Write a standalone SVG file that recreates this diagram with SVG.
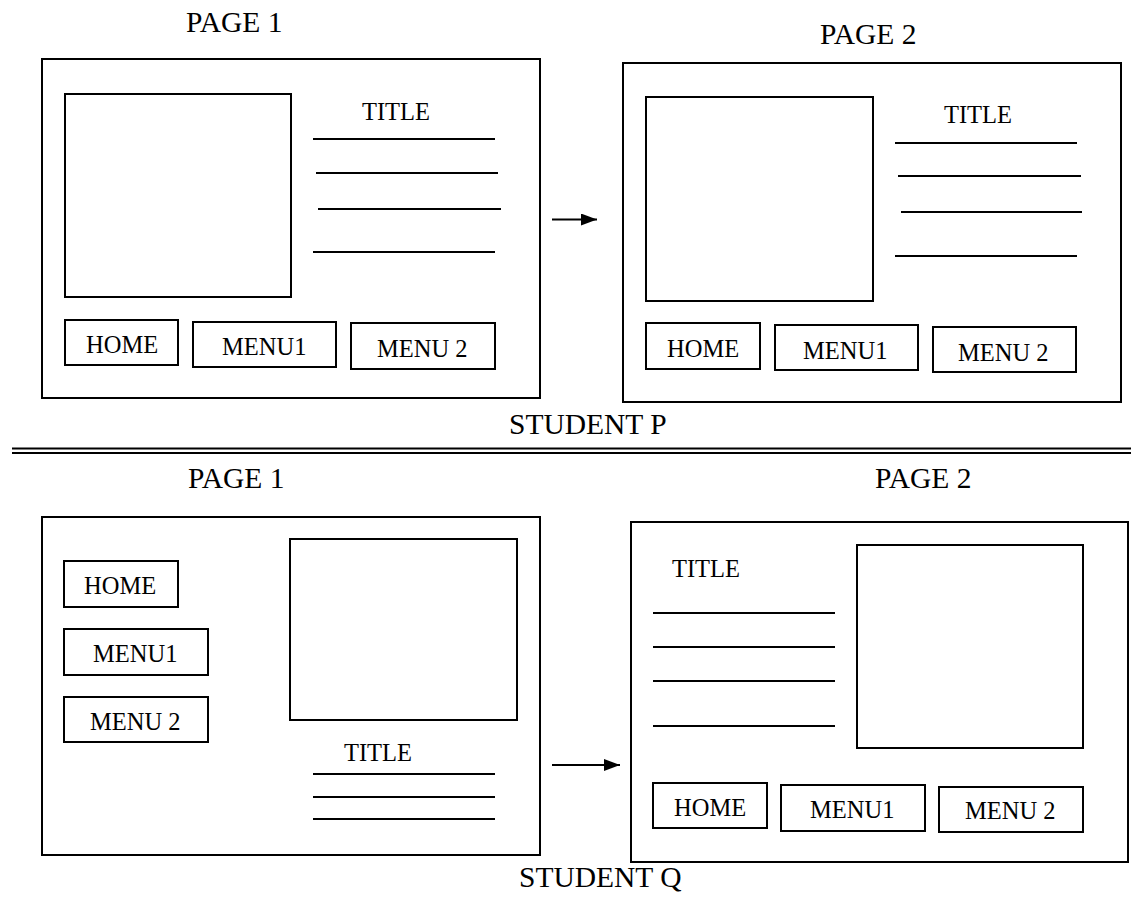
<svg xmlns="http://www.w3.org/2000/svg" width="1131" height="897" viewBox="0 0 1131 897">
<defs>
<style>
.box{fill:none;stroke:#000;stroke-width:2}
.ln{stroke:#000;stroke-width:2}
.t{font-family:"Liberation Serif","Times New Roman",serif;font-size:24.5px;fill:#000}
.lbl{font-family:"Liberation Serif","Times New Roman",serif;font-size:29.5px;fill:#000}
</style>
<marker id="ah" viewBox="0 0 16 12" refX="16" refY="6" markerWidth="16" markerHeight="12" markerUnits="userSpaceOnUse" orient="auto">
<path d="M0,0 L16,6 L0,12 Z" fill="#000"/>
</marker>
</defs>
<rect width="1131" height="897" fill="#fff"/>

<g id="studentP">
<text class="lbl" x="186" y="32">PAGE 1</text>
<text class="lbl" x="820" y="44">PAGE 2</text>
<g id="p-page1">
<rect class="box" x="42" y="59" width="498" height="339"/>
<rect class="box" x="65" y="94" width="226" height="203"/>
<text class="t" x="362" y="120">TITLE</text>
<line class="ln" x1="313" y1="139" x2="495" y2="139"/>
<line class="ln" x1="316" y1="173" x2="498" y2="173"/>
<line class="ln" x1="318" y1="209" x2="501" y2="209"/>
<line class="ln" x1="313" y1="252" x2="495" y2="252"/>
<g id="p1-home"><rect class="box" x="65" y="320" width="113" height="45"/><text class="t" x="86" y="353">HOME</text></g>
<g id="p1-menu1"><rect class="box" x="193" y="322" width="143" height="45"/><text class="t" x="222" y="355">MENU1</text></g>
<g id="p1-menu2"><rect class="box" x="351" y="323" width="144" height="46"/><text class="t" x="377" y="357">MENU 2</text></g>
</g>
<g id="p-page2">
<rect class="box" x="623" y="63" width="498" height="339"/>
<rect class="box" x="646" y="97" width="227" height="204"/>
<text class="t" x="944" y="123">TITLE</text>
<line class="ln" x1="895" y1="143" x2="1077" y2="143"/>
<line class="ln" x1="898" y1="176" x2="1081" y2="176"/>
<line class="ln" x1="901" y1="212" x2="1082" y2="212"/>
<line class="ln" x1="895" y1="256" x2="1077" y2="256"/>
<g id="p2-home"><rect class="box" x="646" y="323" width="114" height="46"/><text class="t" x="667" y="357">HOME</text></g>
<g id="p2-menu1"><rect class="box" x="775" y="325" width="143" height="45"/><text class="t" x="803" y="359">MENU1</text></g>
<g id="p2-menu2"><rect class="box" x="933" y="327" width="143" height="45"/><text class="t" x="958" y="361">MENU 2</text></g>
</g>
<text class="lbl" x="509" y="434">STUDENT P</text>
</g>

<g id="divider">
<line class="ln" x1="12" y1="448.5" x2="1131" y2="448.5"/>
<line class="ln" x1="12" y1="453" x2="1131" y2="453"/>
</g>

<g id="studentQ">
<text class="lbl" x="188" y="488">PAGE 1</text>
<text class="lbl" x="875" y="488">PAGE 2</text>
<g id="q-page1">
<rect class="box" x="42" y="517" width="498" height="338"/>
<g id="q1-home"><rect class="box" x="64" y="561" width="114" height="46"/><text class="t" x="84" y="594">HOME</text></g>
<g id="q1-menu1"><rect class="box" x="64" y="629" width="144" height="46"/><text class="t" x="93" y="662">MENU1</text></g>
<g id="q1-menu2"><rect class="box" x="64" y="697" width="144" height="45"/><text class="t" x="90" y="730">MENU 2</text></g>
<rect class="box" x="290" y="539" width="227" height="181"/>
<text class="t" x="344" y="761">TITLE</text>
<line class="ln" x1="313" y1="774" x2="495" y2="774"/>
<line class="ln" x1="313" y1="797" x2="495" y2="797"/>
<line class="ln" x1="313" y1="819" x2="495" y2="819"/>
</g>
<g id="q-page2">
<rect class="box" x="631" y="522" width="497" height="340"/>
<text class="t" x="672" y="577">TITLE</text>
<line class="ln" x1="653" y1="613" x2="835" y2="613"/>
<line class="ln" x1="653" y1="647" x2="835" y2="647"/>
<line class="ln" x1="653" y1="681" x2="835" y2="681"/>
<line class="ln" x1="653" y1="726" x2="835" y2="726"/>
<rect class="box" x="857" y="545" width="226" height="203"/>
<g id="q2-home"><rect class="box" x="653" y="783" width="114" height="45"/><text class="t" x="674" y="816">HOME</text></g>
<g id="q2-menu1"><rect class="box" x="781" y="785" width="144" height="46"/><text class="t" x="810" y="818">MENU1</text></g>
<g id="q2-menu2"><rect class="box" x="939" y="787" width="144" height="45"/><text class="t" x="965" y="819">MENU 2</text></g>
</g>
<text class="lbl" x="519" y="887">STUDENT Q</text>
</g>

<g id="connectors">
<line class="ln" x1="552" y1="219.5" x2="597" y2="219.5" marker-end="url(#ah)"/>
<line class="ln" x1="552" y1="765" x2="620" y2="765" marker-end="url(#ah)"/>
</g>
</svg>
